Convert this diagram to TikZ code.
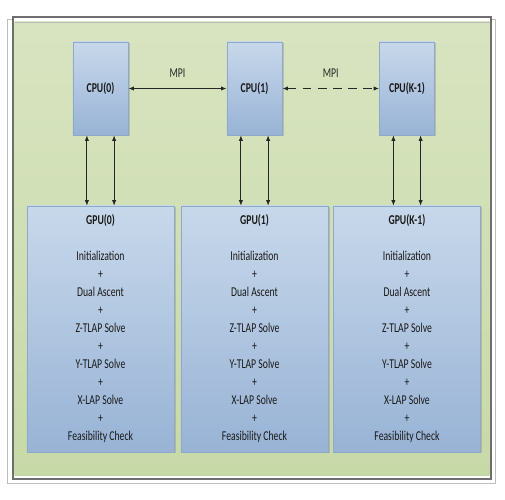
\documentclass[tikz,border=0pt]{standalone}
\usepackage{fontspec}
\setmainfont{Carlito}[FakeStretch=0.72]
\usepackage{tikz}
\usetikzlibrary{arrows.meta,positioning,shadows}
\definecolor{pgreen}{HTML}{D8E4C0}
\definecolor{pgreend}{HTML}{C8D9A8}
\definecolor{pblue}{HTML}{C8D8EB}
\definecolor{pblued}{HTML}{98B3D5}
\definecolor{pbluel}{HTML}{8FA9CA}
\definecolor{pgray}{HTML}{BDBDBD}
\definecolor{pgrayd}{HTML}{6E6E6E}
\tikzset{
  % Shaded blue block with a soft shadow.
  proc/.style  = {rectangle, draw=pbluel, top color=pblue, bottom color=pblued,
                  inner sep=0pt, text=black!90,
                  drop shadow={shadow xshift=0.35mm, shadow yshift=-0.35mm, opacity=0.35}},
  cpu/.style   = {proc, minimum width=13.8mm, minimum height=23.25mm,
                  font=\fontsize{9.6}{12.8}\selectfont\bfseries},
  gpu/.style   = {proc, minimum width=36.8mm, minimum height=61.5mm, align=center,
                  font=\fontsize{9.6}{12.8}\selectfont},
  link/.style  = {{Latex[length=1.4mm,width=1.1mm]}-{Latex[length=1.4mm,width=1.1mm]},
                  line width=0.25mm, black!85},
  tag/.style   = {font=\fontsize{9.6}{11}\selectfont, text=black!85},
}
\newcommand{\gpusteps}[1]{\textbf{GPU(#1)}\\[4.5mm]
  Initialization\\ +\\ Dual Ascent\\ +\\ Z-TLAP Solve\\ +\\
  Y-TLAP Solve\\ +\\ X-LAP Solve\\ +\\ Feasibility Check}

\begin{document}
\begin{tikzpicture}[x=0.25mm,y=-0.25mm]
\useasboundingbox (0,0) rectangle (505,500);
% frame
\draw[pgray, fill=white] (7,19) rectangle (495,483);
\draw[pgrayd, line width=0.4mm, fill=white] (13,17) rectangle (491,479);
\shade[top color=pgreen, bottom color=pgreend] (14.5,22) rectangle (489.5,476);
\draw[pgray] (14.5,22) -- (489.5,22);
% nodes
\foreach \i/\x/\n in {0/100.5/0, 1/254.5/1, k/407/K-1} {
  \node[cpu] (cpu\i) at (\x,88.5) {CPU(\n)};
  \node[gpu] (gpu\i) at (\x,329) {\gpusteps{\n}};
  \draw[link] ([xshift=-3.4mm]cpu\i.south) -- ([xshift=-3.4mm]cpu\i.south |- gpu\i.north);
  \draw[link] ([xshift=3.4mm]cpu\i.south) -- ([xshift=3.4mm]cpu\i.south |- gpu\i.north);
}
% MPI links
\draw[link] (cpu0.east) -- node[tag, yshift=3.75mm] {MPI} (cpu1.west);
\draw[link, dash pattern=on 2.2mm off 1.6mm] (cpu1.east) -- node[tag, yshift=3.75mm] {MPI} (cpuk.west);
\end{tikzpicture}
\end{document}
